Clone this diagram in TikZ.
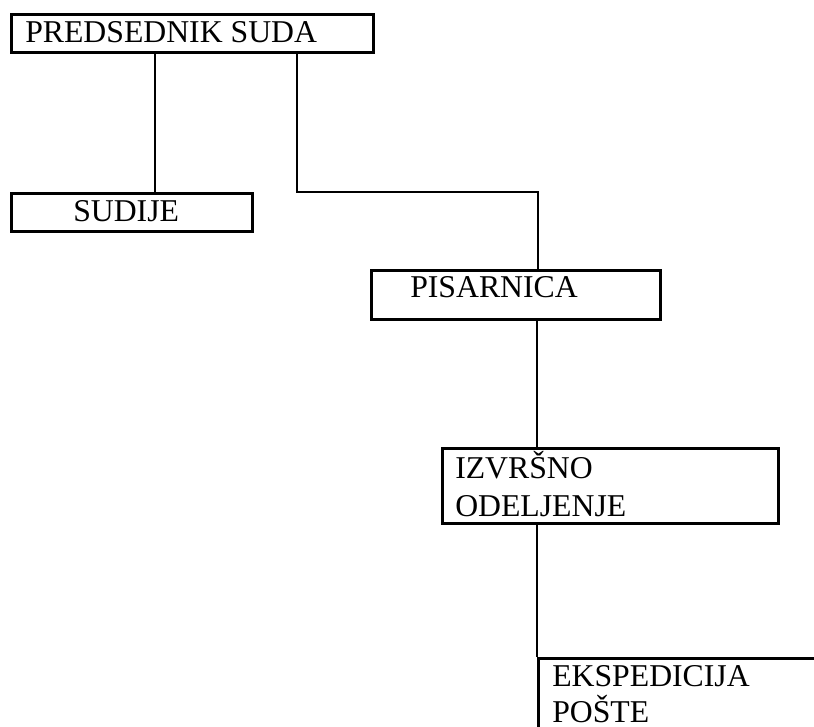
\documentclass[tikz,border=0pt]{standalone}
\usepackage{fontspec}
\setmainfont{Liberation Serif}
\usetikzlibrary{calc}
\begin{document}
\begin{tikzpicture}[x=0.75pt,y=-0.75pt,
  orgbox/.style={draw,line width=1.9pt,rectangle,inner sep=0pt,anchor=north west},
  lbl/.style={anchor=base west,inner sep=0pt,font=\fontsize{23.8}{27.75}\selectfont},
  conn/.style={line width=1.9pt}]
\clip (0,0) rectangle (814,727);
\fill[white] (0,0) rectangle (814,727);
% boxes
\node[orgbox,minimum width=362*0.75pt,minimum height=38*0.75pt] (pred) at (10,13) {};
\node[orgbox,minimum width=241*0.75pt,minimum height=38*0.75pt] (sud) at (10,192) {};
\node[orgbox,minimum width=289*0.75pt,minimum height=49*0.75pt] (pis) at (370,269) {};
\node[orgbox,minimum width=336*0.75pt,minimum height=75*0.75pt] (izv) at (441,447) {};
\node[orgbox,minimum width=320*0.75pt,minimum height=120*0.75pt] (eks) at (537,657) {};
% texts
\node[lbl] (tpred) at (25,43) {PREDSEDNIK SUDA};
\node[lbl] (tsud) at (73,222) {SUDIJE};
\node[lbl] (tpis) at (410,298) {PISARNICA};
\node[lbl] (tizv1) at (455,478) {IZVRŠNO};
\node[lbl] (tizv2) at (455,516) {ODELJENJE};
\node[lbl] (teks1) at (552,686) {EKSPEDICIJA};
\node[lbl] (teks2) at (552,722) {POŠTE};
% connector points
\coordinate (a1) at ($(pred.south west)+(145,0)$);
\coordinate (a2) at ($(pred.south west)+(287,0)$);
\coordinate (b2) at ($(pis.north west)+(168,0)$);
\coordinate (c1) at ($(pis.south west)+(167,0)$);
\coordinate (d1) at ($(izv.south west)+(96,0)$);
% connectors
\draw[conn] (a1) -- (a1 |- sud.north);
\draw[conn] (a2) |- (b2 |- sud.north) -- (b2);
\draw[conn] (c1) -- (c1 |- izv.north);
\draw[conn] (d1) -- (eks.north west);
\end{tikzpicture}
\end{document}
